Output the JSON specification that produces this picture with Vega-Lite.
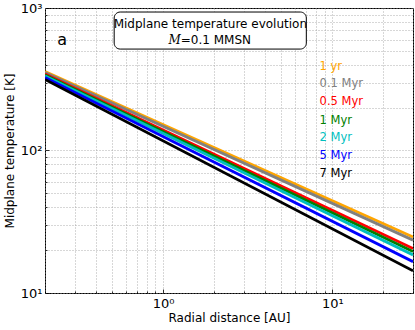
{
  "$schema": "https://vega.github.io/schema/vega-lite/v6.json",
  "autosize": {"type": "none"},
  "width": 368,
  "height": 285,
  "padding": {"left": 45, "top": 8, "right": 2, "bottom": 37},
  "config": {
    "font": "DejaVu Sans",
    "view": {"stroke": "black", "strokeWidth": 1},
    "axis": {
      "domain": false,
      "ticks": true,
      "tickColor": "black",
      "tickWidth": 0.8,
      "grid": true,
      "gridColor": "#999",
      "gridDash": [1, 2],
      "gridWidth": 0.8,
      "labelFont": "DejaVu Sans",
      "labelFontSize": 13,
      "labelColor": "black",
      "titleFont": "DejaVu Sans",
      "titleFontSize": 12,
      "titleFontWeight": "normal",
      "titleColor": "black"
    }
  },
  "datasets": {
    "lines": [
      {"series": "1 yr", "order": 1, "r": 0.2, "T": 358.4},
      {"series": "1 yr", "order": 1, "r": 30, "T": 24.7},
      {"series": "0.1 Myr", "order": 2, "r": 0.2, "T": 352.7},
      {"series": "0.1 Myr", "order": 2, "r": 30, "T": 23.5},
      {"series": "0.5 Myr", "order": 3, "r": 0.2, "T": 344.2},
      {"series": "0.5 Myr", "order": 3, "r": 30, "T": 20.5},
      {"series": "1 Myr", "order": 4, "r": 0.2, "T": 338.7},
      {"series": "1 Myr", "order": 4, "r": 30, "T": 19.55},
      {"series": "2 Myr", "order": 5, "r": 0.2, "T": 333.3},
      {"series": "2 Myr", "order": 5, "r": 30, "T": 18.5},
      {"series": "5 Myr", "order": 6, "r": 0.2, "T": 325.3},
      {"series": "5 Myr", "order": 6, "r": 30, "T": 16.6},
      {"series": "7 Myr", "order": 7, "r": 0.2, "T": 315.0},
      {"series": "7 Myr", "order": 7, "r": 30, "T": 14.3}
    ],
    "labels": [
      {"series": "1 yr", "r": 8.41, "T": 387},
      {"series": "0.1 Myr", "r": 8.41, "T": 293},
      {"series": "0.5 Myr", "r": 8.41, "T": 219},
      {"series": "1 Myr", "r": 8.41, "T": 162},
      {"series": "2 Myr", "r": 8.41, "T": 122.5},
      {"series": "5 Myr", "r": 8.41, "T": 91.4},
      {"series": "7 Myr", "r": 8.41, "T": 68.4}
    ],
    "box": [{"r": 0.513, "r2": 7.02, "T": 515, "T2": 937}],
    "title1": [{"r": 1.9, "T": 772, "text": "Midplane temperature evolution"}],
    "title2": [{"r": 1.27, "T": 596, "m": "M", "rest": "=0.1 MMSN"}],
    "panel": [{"r": 0.253, "T": 596, "text": "a"}]
  },
  "layer": [
    {
      "data": {"name": "lines"},
      "mark": {"type": "line", "strokeWidth": 2.8, "clip": true},
      "encoding": {
        "x": {
          "field": "r", "type": "quantitative",
          "scale": {"type": "log", "domain": [0.2, 30], "nice": false},
          "title": "Radial distance [AU]",
          "axis": {
            "values": [0.2, 0.3, 0.4, 0.5, 0.6, 0.7, 0.8, 0.9, 1, 2, 3, 4, 5, 6, 7, 8, 9, 10, 20, 30],
            "labelExpr": "datum.value == 1 ? '10⁰' : datum.value == 10 ? '10¹' : ''",
            "tickSize": {"condition": {"test": "datum.value == 1 || datum.value == 10", "value": -4}, "value": -2},
            "labelPadding": 8,
            "titlePadding": 2
          }
        },
        "y": {
          "field": "T", "type": "quantitative",
          "scale": {"type": "log", "domain": [10, 1000], "nice": false},
          "title": "Midplane temperature [K]",
          "axis": {
            "values": [10, 20, 30, 40, 50, 60, 70, 80, 90, 100, 200, 300, 400, 500, 600, 700, 800, 900, 1000],
            "labelExpr": "datum.value == 10 ? '10¹' : datum.value == 100 ? '10²' : datum.value == 1000 ? '10³' : ''",
            "tickSize": {"condition": {"test": "datum.value == 10 || datum.value == 100 || datum.value == 1000", "value": -4}, "value": -2},
            "labelPadding": 7,
            "titlePadding": 4
          }
        },
        "color": {
          "field": "series", "type": "nominal",
          "scale": {
            "domain": ["1 yr", "0.1 Myr", "0.5 Myr", "1 Myr", "2 Myr", "5 Myr", "7 Myr"],
            "range": ["#FFA500", "#808080", "#FF0000", "#008000", "#00BFBF", "#0000FF", "#000000"]
          },
          "legend": null
        },
        "order": {"field": "order"}
      }
    },
    {
      "data": {"name": "labels"},
      "mark": {"type": "text", "align": "left", "baseline": "middle", "fontSize": 11.5},
      "encoding": {
        "x": {"field": "r", "type": "quantitative"},
        "y": {"field": "T", "type": "quantitative"},
        "text": {"field": "series"},
        "color": {"field": "series", "type": "nominal", "legend": null}
      }
    },
    {
      "data": {"name": "box"},
      "mark": {"type": "rect", "fill": "white", "stroke": "black", "strokeWidth": 1, "cornerRadius": 6},
      "encoding": {
        "x": {"field": "r", "type": "quantitative"},
        "x2": {"field": "r2"},
        "y": {"field": "T", "type": "quantitative"},
        "y2": {"field": "T2"}
      }
    },
    {
      "data": {"name": "title1"},
      "mark": {"type": "text", "align": "center", "baseline": "middle", "fontSize": 12, "color": "black"},
      "encoding": {
        "x": {"field": "r", "type": "quantitative"},
        "y": {"field": "T", "type": "quantitative"},
        "text": {"field": "text"}
      }
    },
    {
      "data": {"name": "title2"},
      "mark": {"type": "text", "align": "right", "baseline": "middle", "fontSize": 12, "fontStyle": "italic", "font": "DejaVu Serif", "color": "black"},
      "encoding": {
        "x": {"field": "r", "type": "quantitative"},
        "y": {"field": "T", "type": "quantitative"},
        "text": {"field": "m"}
      }
    },
    {
      "data": {"name": "title2"},
      "mark": {"type": "text", "align": "left", "baseline": "middle", "fontSize": 12, "color": "black"},
      "encoding": {
        "x": {"field": "r", "type": "quantitative"},
        "y": {"field": "T", "type": "quantitative"},
        "text": {"field": "rest"}
      }
    },
    {
      "data": {"name": "panel"},
      "mark": {"type": "text", "align": "center", "baseline": "middle", "fontSize": 16, "color": "black"},
      "encoding": {
        "x": {"field": "r", "type": "quantitative"},
        "y": {"field": "T", "type": "quantitative"},
        "text": {"field": "text"}
      }
    }
  ]
}
